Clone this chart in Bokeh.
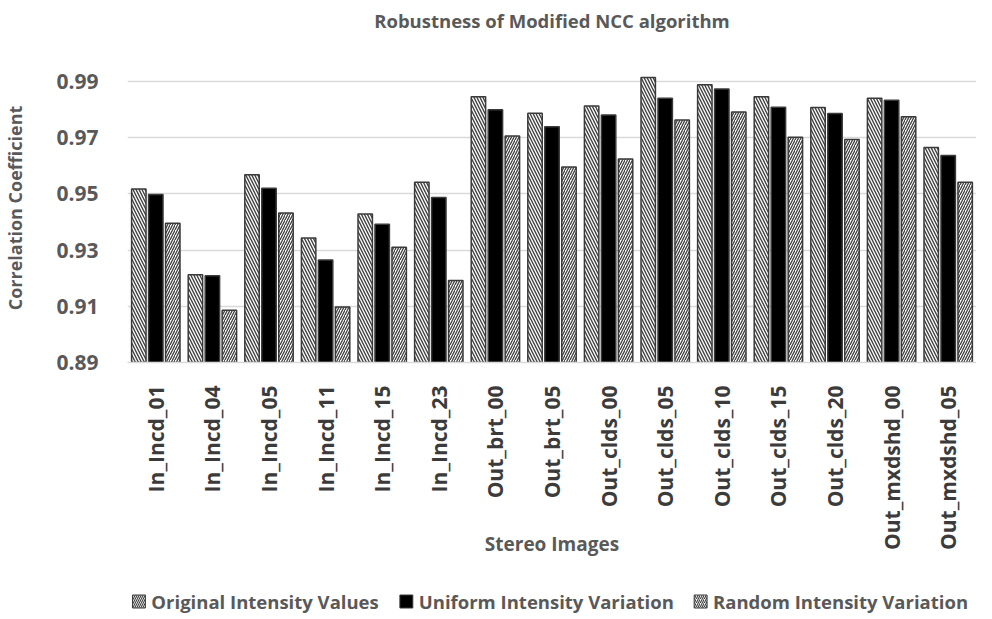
import math
from bokeh.plotting import figure
from bokeh.layouts import column
from bokeh.models import ColumnDataSource, FactorRange, Range1d, FixedTicker, Title
from bokeh.core.properties import value
from bokeh.transform import dodge
from bokeh.embed import file_html
from bokeh.resources import INLINE

categories = ["In_Incd_01", "In_Incd_04", "In_Incd_05", "In_Incd_11", "In_Incd_15",
              "In_Incd_23", "Out_brt_00", "Out_brt_05", "Out_clds_00", "Out_clds_05",
              "Out_clds_10", "Out_clds_15", "Out_clds_20", "Out_mxdshd_00", "Out_mxdshd_05"]
original = [0.9518, 0.9212, 0.9568, 0.9343, 0.9429, 0.9542, 0.9846, 0.9787, 0.9813,
            0.9915, 0.9889, 0.9846, 0.9808, 0.9841, 0.9665]
uniform = [0.9498, 0.9209, 0.9520, 0.9265, 0.9392, 0.9487, 0.9800, 0.9739, 0.9781,
           0.9841, 0.9874, 0.9809, 0.9786, 0.9834, 0.9637]
random_var = [0.9396, 0.9086, 0.9432, 0.9098, 0.9310, 0.9192, 0.9706, 0.9596, 0.9624,
              0.9763, 0.9792, 0.9702, 0.9694, 0.9775, 0.9542]
y_ticks = [0.89, 0.91, 0.93, 0.95, 0.97, 0.99]
series_names = ["Original Intensity Values", "Uniform Intensity Variation", "Random Intensity Variation"]
chart_title = "Robustness of Modified NCC algorithm"

FONT = "Open Sans"
GREY = "#595959"

STYLES = [
    dict(fill_color="white", line_color="#3a3a3a", line_width=1.5,
         hatch_pattern="\\", hatch_color="#404040", hatch_scale=6, hatch_weight=1.4),
    dict(fill_color="black", line_color="#3a3a3a", line_width=1.5),
    dict(fill_color="white", line_color="#3a3a3a", line_width=1.5,
         hatch_pattern="/", hatch_color="#404040", hatch_scale=5, hatch_weight=1.3),
]

source = ColumnDataSource(dict(cat=categories, orig=original, unif=uniform, rand=random_var))

p = figure(x_range=FactorRange(*categories), y_range=Range1d(0.89, 1.0),
           width=976, height=571, output_backend="svg", toolbar_location=None,
           min_border_left=122, min_border_right=0, min_border_top=51, min_border_bottom=209,
           title=chart_title)
p.x_range.range_padding = 0
p.outline_line_color = None

p.title.align = "center"
p.title.offset = -60
p.title.text_font = FONT
p.title.text_font_size = "18.5px"
p.title.text_font_style = "bold"
p.title.text_color = GREY
p.title.standoff = 10
# blank spacer between the frame and the title
p.add_layout(Title(text="\u00a0", text_font_size="10px", standoff=3), "above")

w = 0.255
cols = ["orig", "unif", "rand"]
offs = [-0.30, 0.0, 0.30]
for c, o, st in zip(cols, offs, STYLES):
    p.vbar(x=dodge("cat", o, range=p.x_range), top=c, bottom=0.89, width=w, source=source, **st)

# axes
p.xgrid.grid_line_color = None
p.ygrid.grid_line_color = "#d9d9d9"
p.ygrid.grid_line_width = 1.5
p.yaxis.ticker = FixedTicker(ticks=y_ticks)
p.yaxis.axis_line_color = None
p.yaxis.major_tick_line_color = None
p.yaxis.minor_tick_line_color = None
p.yaxis.major_label_standoff = 23
p.yaxis.major_label_text_font = FONT
p.yaxis.major_label_text_font_size = "21px"
p.yaxis.major_label_text_font_style = "bold"
p.yaxis.major_label_text_color = GREY
p.yaxis.axis_label = "Correlation Coefficient"
p.yaxis.axis_label_text_font = FONT
p.yaxis.axis_label_text_font_size = "18px"
p.yaxis.axis_label_text_font_style = "bold"
p.yaxis.axis_label_text_color = GREY
p.yaxis.axis_label_standoff = 26

p.xaxis.axis_line_color = "#d9d9d9"
p.xaxis.axis_line_width = 1.5
p.xaxis.major_tick_line_color = None
p.xaxis.minor_tick_line_color = None
p.xaxis.major_label_orientation = math.pi / 2
p.xaxis.major_label_standoff = 17
p.xaxis.major_label_text_font = FONT
p.xaxis.major_label_text_font_size = "21px"
p.xaxis.major_label_text_font_style = "bold"
p.xaxis.major_label_text_color = "#3b3b3b"
p.xaxis.axis_label = "Stereo Images"
p.xaxis.axis_label_text_font = FONT
p.xaxis.axis_label_text_font_size = "19px"
p.xaxis.axis_label_text_font_style = "bold"
p.xaxis.axis_label_text_color = GREY
p.xaxis.axis_label_standoff = -22

# legend strip below the chart; its frame lines up with the chart's frame,
# so x here is in page pixels from 130 to 984, y in strip pixels from bottom
LG_H = 44
lg = figure(width=976, height=LG_H, output_backend="svg", toolbar_location=None,
            x_range=Range1d(130, 984), y_range=Range1d(0, LG_H),
            min_border_left=0, min_border_right=0, min_border_top=0, min_border_bottom=0)
lg.axis.visible = False
lg.grid.visible = False
lg.outline_line_color = None
icon_left = [135, 404, 700]
text_left = [154, 423, 719]
row_y = 14
for st, il in zip(STYLES, icon_left):
    st2 = dict(st)
    if "hatch_scale" in st2:
        st2["hatch_scale"] = 4
        st2["hatch_weight"] = 1.1
    st2["line_width"] = 1
    lg.rect(x=[il + 6.5], y=[row_y], width=13, height=13, **st2)
lg.text(x=text_left, y=[row_y] * 3, text=series_names, text_font=value(FONT),
        text_font_size="18.5px", text_font_style="bold", text_color=GREY,
        text_baseline="middle", text_align="left")

layout = column(p, lg, spacing=0)
open("out.html", "w").write(file_html(layout, INLINE))
